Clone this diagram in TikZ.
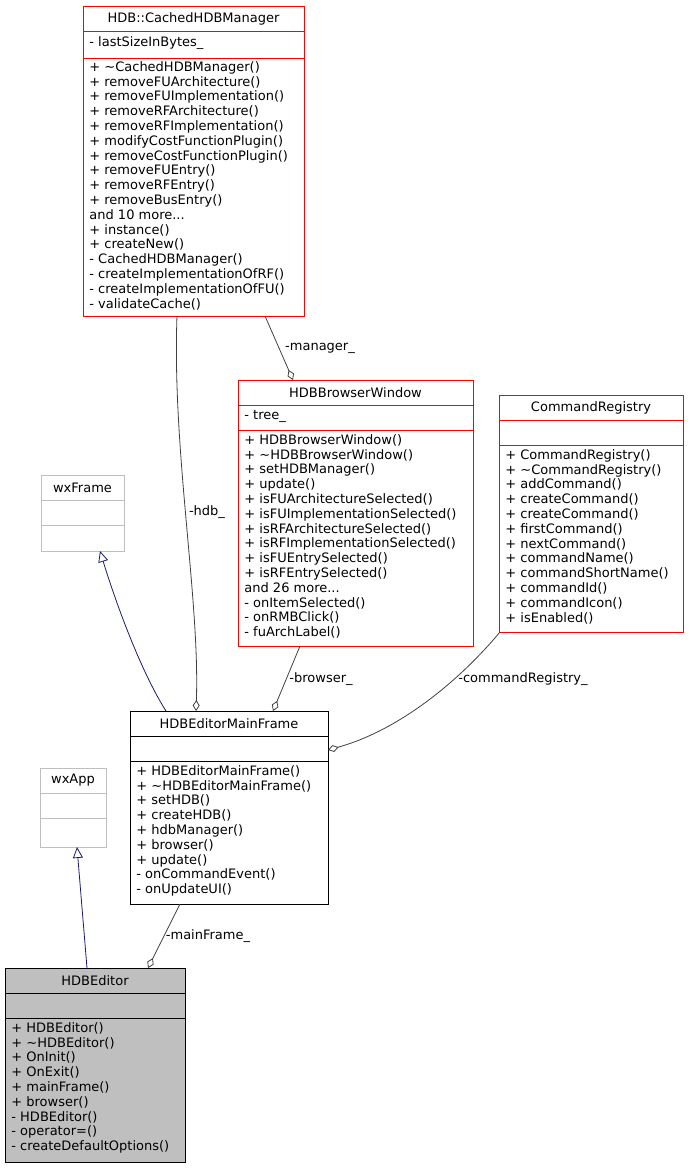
\documentclass[tikz,border=0pt]{standalone}
\usepackage{fontspec}
\setmainfont{DejaVu Sans}
\usetikzlibrary{arrows.meta}
\definecolor{navy}{HTML}{191970}
\definecolor{fillg}{HTML}{BFBFBF}
\tikzset{
  every path/.style={line width=0.8pt},
  txt/.style={anchor=north west,inner sep=0pt,align=left,font=\fontsize{13}{14.8}\selectfont},
  ttl/.style={inner sep=0pt,font=\fontsize{13}{14.8}\selectfont},
  agg/.style={draw=black!75,{Diamond[open,length=11pt,width=7pt]}-},
  inh/.style={draw=navy,-{Triangle[open,length=11pt,width=10pt]}},
  lbl/.style={inner sep=0pt,font=\fontsize{13}{14.8}\selectfont},
  redb/.style={draw=red},
  grayb/.style={draw=fillg},
  blackb/.style={draw=black},
  fillb/.style={draw=black,fill=fillg}
}
% name, x, y, x2, y1, y2, y3, style, title
\newcommand\cls[9]{%
  \node[#8,anchor=north west,inner sep=0pt,minimum width=#4pt-#2pt,minimum height=#7pt-#3pt] (#1) at (#2,#3) {};
  \draw[#8,fill=none] (#2,#5) -- (#4,#5) (#2,#6) -- (#4,#6);
  \node[ttl] (#1-t) at ({(#2+#4)/2},{(#3+#5)/2}) {#9};
}
\begin{document}
\begin{tikzpicture}[x=1pt,y=-1pt]
\useasboundingbox (0,0) rectangle (689,1168);
% classes
\cls{chm}{83}{6}{304}{31}{58}{316}{redb}{HDB::CachedHDBManager}
\node[txt] at (89,36) {- lastSizeInBytes\_};
\node[txt] at (89,61) {+ \textasciitilde CachedHDBManager()\\+ removeFUArchitecture()\\+ removeFUImplementation()\\+ removeRFArchitecture()\\+ removeRFImplementation()\\+ modifyCostFunctionPlugin()\\+ removeCostFunctionPlugin()\\+ removeFUEntry()\\+ removeRFEntry()\\+ removeBusEntry()\\and 10 more...\\+ instance()\\+ createNew()\\- CachedHDBManager()\\- createImplementationOfRF()\\- createImplementationOfFU()\\- validateCache()};

\cls{hbw}{238}{380}{473}{405}{430}{646}{redb}{HDBBrowserWindow}
\node[txt] at (244,410) {- tree\_};
\node[txt] at (244,434) {+ HDBBrowserWindow()\\+ \textasciitilde HDBBrowserWindow()\\+ setHDBManager()\\+ update()\\+ isFUArchitectureSelected()\\+ isFUImplementationSelected()\\+ isRFArchitectureSelected()\\+ isRFImplementationSelected()\\+ isFUEntrySelected()\\+ isRFEntrySelected()\\and 26 more...\\- onItemSelected()\\- onRMBClick()\\- fuArchLabel()};

\cls{cr}{499}{395}{683}{420}{445}{632}{redb}{CommandRegistry}
\node[txt] at (505,449) {+ CommandRegistry()\\+ \textasciitilde CommandRegistry()\\+ addCommand()\\+ createCommand()\\+ createCommand()\\+ firstCommand()\\+ nextCommand()\\+ commandName()\\+ commandShortName()\\+ commandId()\\+ commandIcon()\\+ isEnabled()};

\cls{wxf}{41}{475}{124}{500}{525}{551}{grayb}{wxFrame}

\cls{mf}{130}{711}{328}{736}{761}{904}{blackb}{HDBEditorMainFrame}
\node[txt] at (136,765) {+ HDBEditorMainFrame()\\+ \textasciitilde HDBEditorMainFrame()\\+ setHDB()\\+ createHDB()\\+ hdbManager()\\+ browser()\\+ update()\\- onCommandEvent()\\- onUpdateUI()};

\cls{wxa}{40}{768}{106}{793}{818}{847}{grayb}{wxApp}

\cls{he}{5}{968}{185}{993}{1018}{1162}{fillb}{HDBEditor}
\node[txt] at (11,1022) {+ HDBEditor()\\+ \textasciitilde HDBEditor()\\+ OnInit()\\+ OnExit()\\+ mainFrame()\\+ browser()\\- HDBEditor()\\- operator=()\\- createDefaultOptions()};

% connector endpoints
\coordinate (a1) at (196,711); \coordinate (b1) at (177,316);
\coordinate (a2) at (293,380); \coordinate (b2) at (265,316);
\coordinate (a3) at (273,711); \coordinate (b3) at (300,646);
\coordinate (a4) at (328,750); \coordinate (b4) at (500,632);
\coordinate (a5) at (148,968); \coordinate (b5) at (180,904);
\coordinate (c1) at (166,711); \coordinate (d1) at (100,551);
\coordinate (c2) at (87,968); \coordinate (d2) at (77,847);

\draw[agg] (a1) .. controls (200,600) and (172,450) .. (b1);
\node[lbl] at (207,512) {-hdb\_};
\draw[agg] (a2) -- (b2);
\node[lbl] at (320,348) {-manager\_};
\draw[agg] (a3) -- (b3);
\node[lbl] at (321,679) {-browser\_};
\draw[agg] (a4) .. controls (400,730) and (460,680) .. (b4);
\node[lbl] at (523,679) {-commandRegistry\_};
\draw[agg] (a5) -- (b5);
\node[lbl] at (208,936) {-mainFrame\_};
\draw[inh] (c1) .. controls (140,670) and (115,600) .. (d1);
\draw[inh] (c2) -- (d2);
\end{tikzpicture}
\end{document}
